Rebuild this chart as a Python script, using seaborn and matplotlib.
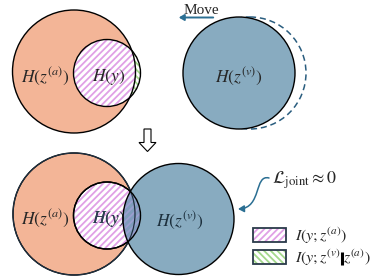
import matplotlib
matplotlib.use("Agg")
import matplotlib.pyplot as plt
import seaborn as sns
from matplotlib.patches import Circle, Rectangle, FancyArrow, FancyArrowPatch
from matplotlib.path import Path

sns.set_theme(style="white")
plt.rcParams["mathtext.fontset"] = "stix"
plt.rcParams["font.family"] = ["Liberation Serif", "DejaVu Serif"]
plt.rcParams["hatch.linewidth"] = 1.3

# ---- content ----
circle_labels_top = [r"$H(z^{(a)})$", r"$H(y)$", r"$H(z^{(v)})$"]
circle_labels_bottom = [r"$H(z^{(a)})$", r"$H(y)$", r"$H(z^{(v)})$"]
move_label = "Move"
loss_label = r"$\mathcal{L}_{\mathrm{joint}}\approx 0$"
legend_labels = [[r"$I(y;z^{(a)})$"], [r"$I(y;z^{(v)}$", r"$z^{(a)})$"]]

ORANGE = "#f3b597"
BLUE = "#88abc0"
PINK = "#e0a0e6"
GREEN = "#a3d88c"
ARROW = "#2b6f93"
DASH = "#2a5d7f"
HP = "/////"
HG = "\\\\\\\\\\"

fig = plt.figure(figsize=(3.83, 2.76), dpi=100)
ax = fig.add_axes([0, 0, 1, 1])
ax.set_xlim(0, 383)
ax.set_ylim(276, 0)
ax.axis("off")
FS = 12.5


def venn_a_y(cA, rA, cY, rY):
    big = Circle(cA, rA, facecolor=ORANGE, edgecolor="none", zorder=1)
    ax.add_patch(big)
    ax.add_patch(Circle(cY, rY, facecolor="white", edgecolor=GREEN, lw=0,
                        hatch=HG, zorder=2))
    pink = Circle(cY, rY, facecolor="white", edgecolor=PINK, lw=0, hatch=HP, zorder=3)
    ax.add_patch(pink)
    pink.set_clip_path(big)
    ax.add_patch(Circle(cA, rA, facecolor="none", edgecolor="black", lw=1.0, zorder=4))
    ax.add_patch(Circle(cY, rY, facecolor="none", edgecolor="black", lw=1.0, zorder=4))
    return big


# ---- top row ----
venn_a_y((74, 71.5), 61.5, (107, 73), 33.5)
ax.add_patch(Circle((250, 73), 56, facecolor="none", edgecolor=DASH, lw=1.1,
                    ls=(0, (4, 2.5)), zorder=1))
ax.add_patch(Circle((239, 73), 56, facecolor=BLUE, edgecolor="black", lw=1.0, zorder=2))

ax.text(45.5, 76, circle_labels_top[0], fontsize=FS, ha="center", va="center", zorder=6)
ax.text(109, 77, circle_labels_top[1], fontsize=FS, ha="center", va="center", zorder=6)
ax.text(239, 76, circle_labels_top[2], fontsize=FS, ha="center", va="center", zorder=6)

ax.text(201.5, 11, move_label, fontsize=11, ha="center", va="center", zorder=6)
ax.add_patch(FancyArrowPatch((216, 17.5), (176, 17.5), arrowstyle="-|>,head_length=3,head_width=1.8",
                             color=ARROW, lw=1.4, mutation_scale=1, zorder=6))

# hollow down arrow
ax.add_patch(FancyArrow(147.5, 129, 0, 22.5, width=7, head_width=17, head_length=9,
                        length_includes_head=True, facecolor="white", edgecolor="black",
                        lw=0.8, zorder=6))

# ---- bottom row ----
cA, rA, cY, rY = (74, 214), 61, (107, 215.5), 33.5
venn_a_y(cA, rA, cY, rY)
ax.text(45.5, 218, circle_labels_bottom[0], fontsize=FS, ha="center", va="center", zorder=4.5)
ax.text(109, 219, circle_labels_bottom[1], fontsize=FS, ha="center", va="center", zorder=4.5)

blue = Circle((178.5, 219), 55.5, facecolor=BLUE, edgecolor="none", zorder=5)
ax.add_patch(blue)
# hatch showing through the blue circle
base = Circle(cY, rY, facecolor="#7f9cbc", edgecolor="none", lw=0, zorder=6)
ax.add_patch(base)
base.set_clip_path(blue)
g2 = Circle(cY, rY, facecolor="none", edgecolor="#5c9c86", lw=0, hatch=HG, zorder=6.5)
ax.add_patch(g2)
g2.set_clip_path(blue)
big_clip = Circle(cA, rA, facecolor="none", edgecolor="none", zorder=0)
ax.add_patch(big_clip)
p2 = Circle(cY, rY, facecolor="#7f9cbc", edgecolor="#9a9ecf", lw=0, hatch=HP, zorder=7)
ax.add_patch(p2)
p2.set_clip_path(big_clip)
t_in = ax.text(109, 219, circle_labels_bottom[1], fontsize=FS, ha="center", va="center",
               color="#2b3f55", zorder=7.5)
t_in.set_clip_path(blue)
ax.add_patch(Circle(cA, rA, facecolor="none", edgecolor="#1f3040", lw=0.9, zorder=8))
ax.add_patch(Circle(cY, rY, facecolor="none", edgecolor="black", lw=1.0, zorder=8))
ax.add_patch(Circle((178.5, 219), 55.5, facecolor="none", edgecolor="black", lw=1.0, zorder=9))
p2.set_clip_path(blue)

ax.text(180, 220, circle_labels_bottom[2], fontsize=FS, ha="center", va="center",
        color="#1c2f3c", zorder=10)

# loss annotation with curved arrow
ax.text(272, 180, loss_label, fontsize=13, ha="left", va="center", zorder=10)
curve = Path([(269, 178), (254, 174), (262, 208), (238, 209)],
             [Path.MOVETO, Path.CURVE4, Path.CURVE4, Path.CURVE4])
ax.add_patch(FancyArrowPatch(path=curve, arrowstyle="-|>,head_length=3.5,head_width=2",
                             color=ARROW, lw=1.1, mutation_scale=1, zorder=10))

# legend
renderer = fig.canvas.get_renderer()
LFS = 11.5
for i, (parts, col, h) in enumerate(zip(legend_labels, [PINK, GREEN], [HP, HG])):
    y0 = 228 + i * 22
    ax.add_patch(Rectangle((253, y0), 33, 14, facecolor="white", edgecolor=col, lw=0,
                           hatch=h, zorder=10))
    ax.add_patch(Rectangle((253, y0), 33, 14, facecolor="none", edgecolor="#2a3a4a",
                           lw=1.3, zorder=11))
    t = ax.text(295, y0 + 7.5, parts[0], fontsize=LFS, ha="left", va="center", zorder=11)
    if len(parts) > 1:
        bb = t.get_window_extent(renderer)
        xend = bb.x1 * 100 / fig.dpi
        ax.plot([xend + 1.3, xend + 1.3], [y0 + 1.5, y0 + 15], color="black", lw=2.2,
                solid_capstyle="butt", zorder=11)
        ax.text(xend + 2.6, y0 + 7.5, parts[1], fontsize=LFS, ha="left", va="center",
                zorder=11)

fig.savefig("out.png", dpi=100)
